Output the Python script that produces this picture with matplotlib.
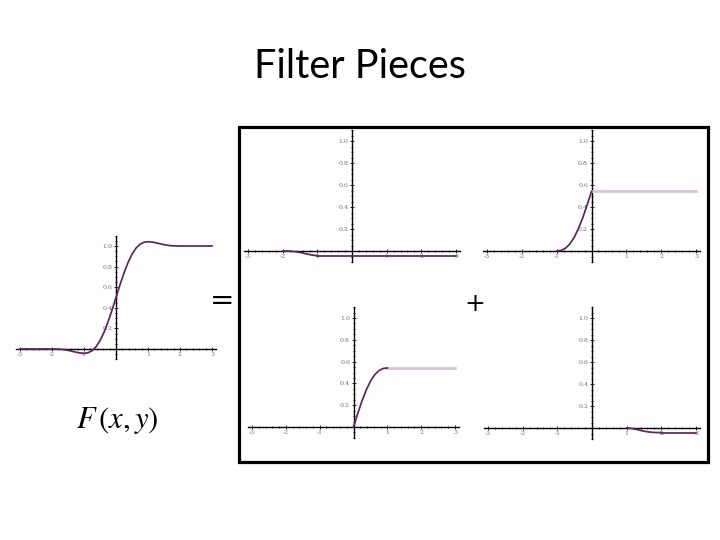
import matplotlib
matplotlib.use("Agg")
import matplotlib.pyplot as plt
from matplotlib.patches import Rectangle
from matplotlib.ticker import MultipleLocator, FixedLocator

plt.rcParams['mathtext.fontset'] = 'stix'

# ---------------- data ----------------
title = "Filter Pieces"
major_x = [-3, -2, -1, 1, 2, 3]
major_x_labels = ["-3", "-2", "-1", "1", "2", "3"]
major_y = [0.2, 0.4, 0.6, 0.8, 1.0]
major_y_labels = ["0.2", "0.4", "0.6", "0.8", "1.0"]

# full filter F
f_x = [-3.0, -2.0, -1.875, -1.75, -1.625, -1.5, -1.375, -1.25, -1.125, -1.0,
       -0.875, -0.75, -0.625, -0.5, -0.375, -0.25, -0.125, 0.0,
       0.125, 0.25, 0.375, 0.5, 0.625, 0.75, 0.875, 1.0,
       1.125, 1.25, 1.375, 1.5, 1.625, 1.75, 1.875, 2.0, 3.0]
f_y = [0.0, 0.0, -0.0003, -0.0021, -0.0063, -0.0130, -0.0216, -0.0308, -0.0384, -0.0417,
       -0.0366, -0.0171, 0.0212, 0.0807, 0.1615, 0.2615, 0.3765, 0.5,
       0.6235, 0.7384, 0.8385, 0.9193, 0.9788, 1.0171, 1.0366, 1.0417,
       1.0384, 1.0308, 1.0216, 1.0130, 1.0063, 1.0021, 1.0003, 1.0, 1.0]

# piece 1 (top-left)
p1_x = [-2.0, -1.875, -1.75, -1.625, -1.5, -1.375, -1.25, -1.125, -1.0]
p1_y = [0.0, -0.0003, -0.0021, -0.0063, -0.0130, -0.0216, -0.0308, -0.0384, -0.0417]
p1_flat_x = [-1.0, 3.0]
p1_flat_y = [-0.0417, -0.0417]

# piece 2 (top-right)
p2_x = [-1.0, -0.875, -0.75, -0.625, -0.5, -0.375, -0.25, -0.125, 0.0]
p2_y = [0.0, 0.0051, 0.0246, 0.0629, 0.1224, 0.2032, 0.3032, 0.4182, 0.5417]
p2_flat_x = [0.0, 3.0]
p2_flat_y = [0.5417, 0.5417]

# piece 3 (bottom-left)
p3_x = [0.0, 0.125, 0.25, 0.375, 0.5, 0.625, 0.75, 0.875, 1.0]
p3_y = [0.0, 0.1235, 0.2384, 0.3385, 0.4193, 0.4788, 0.5171, 0.5366, 0.5417]
p3_flat_x = [1.0, 3.0]
p3_flat_y = [0.5417, 0.5417]

# piece 4 (bottom-right)
p4_x = [1.0, 1.125, 1.25, 1.375, 1.5, 1.625, 1.75, 1.875, 2.0]
p4_y = [0.0, -0.0033, -0.0109, -0.0201, -0.0287, -0.0354, -0.0396, -0.0414, -0.0417]
p4_flat_x = [2.0, 3.0]
p4_flat_y = [-0.0417, -0.0417]

DARK = "#5e2460"
LIGHT = "#d9bfd8"

W, H = 720, 540
fig = plt.figure(figsize=(7.2, 5.4), dpi=100)
fig.patch.set_facecolor("white")


def make_axes(xm3, xp3, y0, y1):
    """pixel position of x=-3, x=3, y=0, y=1 -> axes"""
    sx = (xp3 - xm3) / 6.0
    sy = (y0 - y1)
    xlo, xhi = -3.12, 3.12
    ylo, yhi = -0.10, 1.10
    left = xm3 + (xlo + 3) * sx
    right = xm3 + (xhi + 3) * sx
    top = y0 - yhi * sy
    bottom = y0 - ylo * sy
    ax = fig.add_axes([left / W, 1 - bottom / H, (right - left) / W, (bottom - top) / H])
    ax.set_xlim(xlo, xhi)
    ax.set_ylim(ylo, yhi)
    ax.patch.set_alpha(0)
    for s in ("top", "right"):
        ax.spines[s].set_visible(False)
    ax.spines["left"].set_position(("data", 0))
    ax.spines["bottom"].set_position(("data", 0))
    ax.spines["left"].set_linewidth(1.0)
    ax.spines["bottom"].set_linewidth(1.0)
    ax.xaxis.set_major_locator(FixedLocator(major_x))
    ax.set_xticklabels(major_x_labels)
    ax.xaxis.set_minor_locator(MultipleLocator(0.2))
    ax.yaxis.set_major_locator(FixedLocator(major_y))
    ax.set_yticklabels(major_y_labels)
    ax.yaxis.set_minor_locator(MultipleLocator(0.05))
    ax.tick_params(axis="both", which="major", direction="inout", length=3.0,
                   width=0.6, labelsize=4.5, labelcolor="#707070", pad=1.0)
    ax.tick_params(axis="both", which="minor", direction="inout", length=1.8, width=0.5)
    for lab in ax.get_xticklabels() + ax.get_yticklabels():
        lab.set_family("DejaVu Serif")
    return ax


# big F plot
axF = make_axes(20, 212, 349, 246)
axF.plot(f_x, f_y, color=DARK, lw=1.25, zorder=3, clip_on=False)

# pieces
ax1 = make_axes(248, 456, 251, 141)
ax1.plot(p1_x, p1_y, color=DARK, lw=1.25, zorder=3, clip_on=False)
ax1.plot(p1_flat_x, p1_flat_y, color=DARK, lw=1.25, zorder=3, clip_on=False)

ax2 = make_axes(487, 696, 251, 141)
ax2.plot(p2_flat_x, p2_flat_y, color=LIGHT, lw=1.9, zorder=3, clip_on=False)
ax2.plot(p2_x, p2_y, color=DARK, lw=1.25, zorder=3, clip_on=False)

ax3 = make_axes(252, 455, 427, 318)
ax3.plot(p3_flat_x, p3_flat_y, color=LIGHT, lw=1.9, zorder=3, clip_on=False)
ax3.plot(p3_x, p3_y, color=DARK, lw=1.25, zorder=3, clip_on=False)

ax4 = make_axes(488, 696, 428, 318)
ax4.plot(p4_x, p4_y, color=DARK, lw=1.25, zorder=3, clip_on=False)
ax4.plot(p4_flat_x, p4_flat_y, color=DARK, lw=1.25, zorder=3, clip_on=False)

# frame around the four pieces
fig.patches.append(Rectangle((238.5 / W, 1 - 461.5 / H), (707.5 - 238.5) / W, (461.5 - 126.5) / H,
                             transform=fig.transFigure, fill=False, edgecolor="black",
                             linewidth=2.3, zorder=10))

# title and operators
fig.text(360 / W, 1 - 67 / H, title, ha="center", va="center", fontsize=28.5,
         family="Lato", color="black")
fig.text(222 / W, 1 - 301 / H, "=", ha="center", va="center", fontsize=21,
         family="DejaVu Sans", color="black")
fig.text(475 / W, 1 - 304 / H, "+", ha="center", va="center", fontsize=18,
         family="DejaVu Sans", color="black")
fig.text(117 / W, 1 - 420 / H, r"$F\,(x, y)$", ha="center", va="center", fontsize=22,
         color="black")

fig.savefig("out.png", dpi=100, facecolor="white")
